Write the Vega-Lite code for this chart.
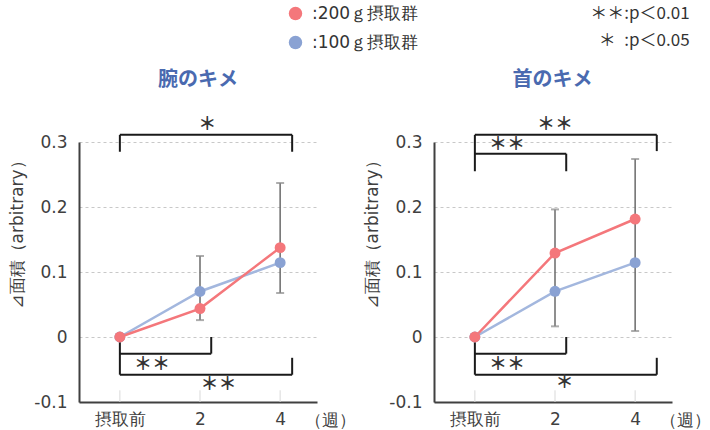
{
  "$schema": "https://vega.github.io/schema/vega-lite/v6.json",
  "background": "white",
  "padding": {"left": 8, "top": 4, "right": 5, "bottom": 5},
  "bounds": "flush",
  "spacing": 117,
  "config": {
    "font": "DejaVu Sans",
    "view": {"stroke": null},
    "axis": {
      "domainColor": "#404040",
      "domainWidth": 2,
      "labelColor": "#404040",
      "labelFontSize": 17,
      "titleColor": "#404040",
      "titleFontSize": 17,
      "titleFontWeight": "normal",
      "ticks": false
    }
  },
  "datasets": {
    "series": [
      {"panel": "L", "x": 0, "group": "100ｇ摂取群", "v": 0},
      {"panel": "L", "x": 1, "group": "100ｇ摂取群", "v": 0.070},
      {"panel": "L", "x": 2, "group": "100ｇ摂取群", "v": 0.1144},
      {"panel": "L", "x": 0, "group": "200ｇ摂取群", "v": 0},
      {"panel": "L", "x": 1, "group": "200ｇ摂取群", "v": 0.0437},
      {"panel": "L", "x": 2, "group": "200ｇ摂取群", "v": 0.1375},
      {"panel": "R", "x": 0, "group": "100ｇ摂取群", "v": 0},
      {"panel": "R", "x": 1, "group": "100ｇ摂取群", "v": 0.0703},
      {"panel": "R", "x": 2, "group": "100ｇ摂取群", "v": 0.1144},
      {"panel": "R", "x": 0, "group": "200ｇ摂取群", "v": 0},
      {"panel": "R", "x": 1, "group": "200ｇ摂取群", "v": 0.1292},
      {"panel": "R", "x": 2, "group": "200ｇ摂取群", "v": 0.1815}
    ],
    "err": [
      {"panel": "L", "x": 1, "lo": 0.026, "hi": 0.1246},
      {"panel": "L", "x": 2, "lo": 0.0677, "hi": 0.2369},
      {"panel": "R", "x": 1, "lo": 0.0164, "hi": 0.1963},
      {"panel": "R", "x": 2, "lo": 0.0092, "hi": 0.2738}
    ],
    "brk": [
      {"panel": "L", "x": 0, "x2": 2.15, "y": 0.311, "y2": 0.311},
      {"panel": "L", "x": 0, "x2": 0, "y": 0.311, "y2": 0.285},
      {"panel": "L", "x": 2.15, "x2": 2.15, "y": 0.311, "y2": 0.285},
      {"panel": "L", "x": 0, "x2": 0, "y": 0, "y2": -0.058},
      {"panel": "L", "x": 0, "x2": 1.14, "y": -0.0256, "y2": -0.0256},
      {"panel": "L", "x": 1.14, "x2": 1.14, "y": -0.0256, "y2": 0},
      {"panel": "L", "x": 0, "x2": 2.15, "y": -0.058, "y2": -0.058},
      {"panel": "L", "x": 2.15, "x2": 2.15, "y": -0.058, "y2": -0.032},
      {"panel": "R", "x": 0, "x2": 2.27, "y": 0.311, "y2": 0.311},
      {"panel": "R", "x": 0, "x2": 0, "y": 0.311, "y2": 0.255},
      {"panel": "R", "x": 2.27, "x2": 2.27, "y": 0.311, "y2": 0.286},
      {"panel": "R", "x": 0, "x2": 1.14, "y": 0.282, "y2": 0.282},
      {"panel": "R", "x": 1.14, "x2": 1.14, "y": 0.282, "y2": 0.255},
      {"panel": "R", "x": 0, "x2": 0, "y": 0, "y2": -0.058},
      {"panel": "R", "x": 0, "x2": 1.14, "y": -0.0256, "y2": -0.0256},
      {"panel": "R", "x": 1.14, "x2": 1.14, "y": -0.0256, "y2": 0},
      {"panel": "R", "x": 0, "x2": 2.27, "y": -0.058, "y2": -0.058},
      {"panel": "R", "x": 2.27, "x2": 2.27, "y": -0.058, "y2": -0.032}
    ],
    "sig": [
      {"panel": "L", "x": 1.09, "y": 0.3257, "t": "＊"},
      {"panel": "L", "x": 0.4, "y": -0.0435, "t": "＊＊"},
      {"panel": "L", "x": 1.23, "y": -0.0743, "t": "＊＊"},
      {"panel": "R", "x": 1.0, "y": 0.3257, "t": "＊＊"},
      {"panel": "R", "x": 0.4, "y": 0.2949, "t": "＊＊"},
      {"panel": "R", "x": 0.4, "y": -0.0435, "t": "＊＊"},
      {"panel": "R", "x": 1.12, "y": -0.0713, "t": "＊"}
    ],
    "ttl": [
      {"panel": "L", "x": 0.975, "y": 0.395, "t": "腕のキメ"},
      {"panel": "R", "x": 0.97, "y": 0.395, "t": "首のキメ"}
    ],
    "note": [
      {"panel": "R", "x": 2.68, "y": 0.497, "t": "＊＊:p＜0.01"},
      {"panel": "R", "x": 2.68, "y": 0.455, "t": "＊\u2002:p＜0.05"}
    ],
    "xt": [{"x": 0}, {"x": 1}, {"x": 2}]
  },
  "hconcat": [
    {
      "width": 238, "height": 260,
      "layer": [
        {
          "data": {"name": "xt"},
          "mark": {"type": "rule", "color": "#d9d9d9", "strokeWidth": 1},
          "encoding": {
            "x": {"field": "x", "type": "quantitative", "scale": {"domain": [-0.51, 2.46], "nice": false, "zero": false},
              "axis": {"values": [0, 1, 2], "labelExpr": "datum.value == 0 ? '摂取前' : datum.value == 1 ? '2' : '4'", "grid": false, "labelPadding": 9, "title": "（週）", "titleX": 251, "titleY": 18, "titleAlign": "center", "titleBaseline": "middle"}},
            "y": {"datum": -0.1, "type": "quantitative", "scale": {"domain": [-0.1, 0.3], "nice": false, "zero": false},
              "axis": {"values": [-0.1, 0, 0.1, 0.2, 0.3], "labelExpr": "datum.value < 0 ? '-0.1' : datum.value == 0 ? '0' : format(datum.value, '.1f')", "grid": true, "gridColor": "#c8c8c8", "gridDash": [3, 3], "labelPadding": 12, "title": "⊿面積（arbitrary）", "titlePadding": 7, "titleY": 88, "titleAlign": "center"}},
            "y2": {"datum": -0.082}
          }
        },
        {
          "data": {"name": "brk"},
          "transform": [{"filter": "datum.panel == 'L'"}],
          "mark": {"type": "rule", "color": "#1a1a1a", "strokeWidth": 2},
          "encoding": {
            "x": {"field": "x", "type": "quantitative"},
            "x2": {"field": "x2"},
            "y": {"field": "y", "type": "quantitative"},
            "y2": {"field": "y2"}
          }
        },
        {
          "data": {"name": "err"},
          "transform": [{"filter": "datum.panel == 'L'"}],
          "mark": {"type": "rule", "color": "#6a6a6a", "strokeWidth": 1.5},
          "encoding": {
            "x": {"field": "x", "type": "quantitative"},
            "y": {"field": "lo", "type": "quantitative"},
            "y2": {"field": "hi"}
          }
        },
        {
          "data": {"name": "err"},
          "transform": [{"filter": "datum.panel == 'L'"}, {"fold": ["lo", "hi"], "as": ["k", "val"]}],
          "mark": {"type": "tick", "orient": "horizontal", "color": "#8a8a8a", "size": 8, "thickness": 2},
          "encoding": {
            "x": {"field": "x", "type": "quantitative"},
            "y": {"field": "val", "type": "quantitative"}
          }
        },
        {
          "data": {"name": "series"},
          "transform": [{"filter": "datum.panel == 'L'"}],
          "mark": {"type": "line", "strokeWidth": 2.5},
          "encoding": {
            "x": {"field": "x", "type": "quantitative"},
            "y": {"field": "v", "type": "quantitative"},
            "stroke": {"field": "group", "type": "nominal", "scale": {"domain": ["100ｇ摂取群", "200ｇ摂取群"], "range": ["#a3b7de", "#f4777b"]}, "legend": null}
          }
        },
        {
          "data": {"name": "series"},
          "transform": [{"filter": "datum.panel == 'L'"}],
          "mark": {"type": "point", "filled": true, "opacity": 1, "size": 120},
          "encoding": {
            "x": {"field": "x", "type": "quantitative"},
            "y": {"field": "v", "type": "quantitative"},
            "color": {"field": "group", "type": "nominal",
              "scale": {"domain": ["200ｇ摂取群", "100ｇ摂取群"], "range": ["#f4777b", "#8aa2d3"]},
              "legend": {"orient": "none", "legendX": 208, "legendY": -137, "title": null, "labelExpr": "':' + datum.label", "labelFontSize": 17, "labelColor": "#333333", "symbolType": "circle", "symbolSize": 180, "symbolStrokeWidth": 0, "rowPadding": 11, "labelOffset": 8}}
          }
        },
        {
          "data": {"name": "sig"},
          "transform": [{"filter": "datum.panel == 'L'"}],
          "mark": {"type": "text", "font": "Noto Sans CJK JP", "fontSize": 18, "fontWeight": "bold", "color": "#333333", "baseline": "middle", "align": "center"},
          "encoding": {
            "x": {"field": "x", "type": "quantitative"},
            "y": {"field": "y", "type": "quantitative"},
            "text": {"field": "t"}
          }
        },
        {
          "data": {"name": "ttl"},
          "transform": [{"filter": "datum.panel == 'L'"}],
          "mark": {"type": "text", "font": "Noto Sans CJK JP", "fontSize": 20, "fontWeight": "bold", "color": "#4a6ab0", "baseline": "middle", "align": "center"},
          "encoding": {
            "x": {"field": "x", "type": "quantitative"},
            "y": {"field": "y", "type": "quantitative"},
            "text": {"field": "t"}
          }
        }
      ]
    },
    {
      "width": 238, "height": 260,
      "layer": [
        {
          "data": {"name": "xt"},
          "mark": {"type": "rule", "color": "#d9d9d9", "strokeWidth": 1},
          "encoding": {
            "x": {"field": "x", "type": "quantitative", "scale": {"domain": [-0.51, 2.46], "nice": false, "zero": false},
              "axis": {"values": [0, 1, 2], "labelExpr": "datum.value == 0 ? '摂取前' : datum.value == 1 ? '2' : '4'", "grid": false, "labelPadding": 9, "title": "（週）", "titleX": 251, "titleY": 18, "titleAlign": "center", "titleBaseline": "middle"}},
            "y": {"datum": -0.1, "type": "quantitative", "scale": {"domain": [-0.1, 0.3], "nice": false, "zero": false},
              "axis": {"values": [-0.1, 0, 0.1, 0.2, 0.3], "labelExpr": "datum.value < 0 ? '-0.1' : datum.value == 0 ? '0' : format(datum.value, '.1f')", "grid": true, "gridColor": "#c8c8c8", "gridDash": [3, 3], "labelPadding": 12, "title": "⊿面積（arbitrary）", "titlePadding": 7, "titleY": 88, "titleAlign": "center"}},
            "y2": {"datum": -0.082}
          }
        },
        {
          "data": {"name": "brk"},
          "transform": [{"filter": "datum.panel == 'R'"}],
          "mark": {"type": "rule", "color": "#1a1a1a", "strokeWidth": 2},
          "encoding": {
            "x": {"field": "x", "type": "quantitative"},
            "x2": {"field": "x2"},
            "y": {"field": "y", "type": "quantitative"},
            "y2": {"field": "y2"}
          }
        },
        {
          "data": {"name": "err"},
          "transform": [{"filter": "datum.panel == 'R'"}],
          "mark": {"type": "rule", "color": "#6a6a6a", "strokeWidth": 1.5},
          "encoding": {
            "x": {"field": "x", "type": "quantitative"},
            "y": {"field": "lo", "type": "quantitative"},
            "y2": {"field": "hi"}
          }
        },
        {
          "data": {"name": "err"},
          "transform": [{"filter": "datum.panel == 'R'"}, {"fold": ["lo", "hi"], "as": ["k", "val"]}],
          "mark": {"type": "tick", "orient": "horizontal", "color": "#8a8a8a", "size": 8, "thickness": 2},
          "encoding": {
            "x": {"field": "x", "type": "quantitative"},
            "y": {"field": "val", "type": "quantitative"}
          }
        },
        {
          "data": {"name": "series"},
          "transform": [{"filter": "datum.panel == 'R'"}],
          "mark": {"type": "line", "strokeWidth": 2.5},
          "encoding": {
            "x": {"field": "x", "type": "quantitative"},
            "y": {"field": "v", "type": "quantitative"},
            "stroke": {"field": "group", "type": "nominal", "scale": {"domain": ["100ｇ摂取群", "200ｇ摂取群"], "range": ["#a3b7de", "#f4777b"]}, "legend": null}
          }
        },
        {
          "data": {"name": "series"},
          "transform": [{"filter": "datum.panel == 'R'"}],
          "mark": {"type": "point", "filled": true, "opacity": 1, "size": 120},
          "encoding": {
            "x": {"field": "x", "type": "quantitative"},
            "y": {"field": "v", "type": "quantitative"},
            "color": {"field": "group", "type": "nominal",
              "scale": {"domain": ["200ｇ摂取群", "100ｇ摂取群"], "range": ["#f4777b", "#8aa2d3"]}}
          }
        },
        {
          "data": {"name": "sig"},
          "transform": [{"filter": "datum.panel == 'R'"}],
          "mark": {"type": "text", "font": "Noto Sans CJK JP", "fontSize": 18, "fontWeight": "bold", "color": "#333333", "baseline": "middle", "align": "center"},
          "encoding": {
            "x": {"field": "x", "type": "quantitative"},
            "y": {"field": "y", "type": "quantitative"},
            "text": {"field": "t"}
          }
        },
        {
          "data": {"name": "ttl"},
          "transform": [{"filter": "datum.panel == 'R'"}],
          "mark": {"type": "text", "font": "Noto Sans CJK JP", "fontSize": 20, "fontWeight": "bold", "color": "#4a6ab0", "baseline": "middle", "align": "center"},
          "encoding": {
            "x": {"field": "x", "type": "quantitative"},
            "y": {"field": "y", "type": "quantitative"},
            "text": {"field": "t"}
          }
        },
        {
          "data": {"name": "note"},
          "mark": {"type": "text", "font": "Noto Sans CJK JP", "fontSize": 17, "color": "#333333", "baseline": "middle", "align": "right"},
          "encoding": {
            "x": {"field": "x", "type": "quantitative"},
            "y": {"field": "y", "type": "quantitative"},
            "text": {"field": "t"}
          }
        }
      ]
    }
  ]
}
